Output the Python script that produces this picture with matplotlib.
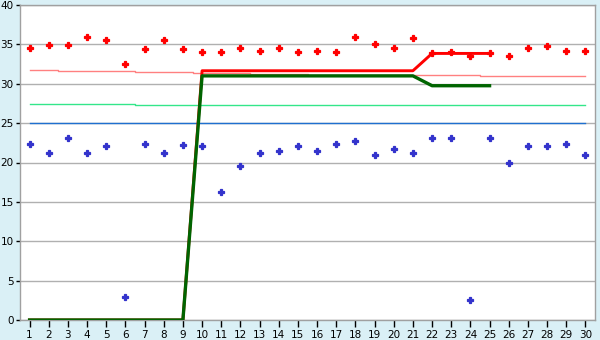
import matplotlib
matplotlib.use("Agg")
import matplotlib.pyplot as plt

days = list(range(1, 31))
red_points = [34.5, 34.9, 34.9, 36.0, 35.5, 32.5, 34.4, 35.6, 34.4, 34.0,
              34.0, 34.5, 34.1, 34.5, 34.0, 34.2, 34.0, 36.0, 35.0, 34.6,
              35.8, 33.9, 34.0, 33.5, 33.9, 33.5, 34.5, 34.75, 34.2, 34.2]
blue_points = [22.3, 21.2, 23.1, 21.2, 22.05, 2.9, 22.4, 21.2, 22.2, 22.05,
               16.2, 19.6, 21.2, 21.4, 22.05, 21.4, 22.4, 22.7, 21.0, 21.7,
               21.2, 23.1, 23.1, 2.5, 23.1, 20.0, 22.05, 22.05, 22.3, 21.0]
pink_line = [31.7, 31.7, 31.58, 31.58, 31.58, 31.58, 31.45, 31.45, 31.45, 31.35,
             31.35, 31.35, 31.2, 31.2, 31.2, 31.07, 31.07, 31.07, 31.07, 31.07,
             31.07, 31.07, 31.07, 31.07, 30.95, 30.95, 30.95, 30.95, 30.95, 30.95]
lightgreen_line = [27.4] * 6 + [27.26] * 24
blue_line = [25.0] * 30
thick_days = list(range(1, 26))
red_thick = [0] * 9 + [31.65] * 12 + [33.85] * 4
green_thick = [0] * 9 + [31.0] * 12 + [29.75] * 4

fig = plt.figure(figsize=(6, 3.4), dpi=100)
fig.patch.set_facecolor("#daf0f6")
ax = fig.add_axes([20/600, 20/340, 575/600, 315/340])
ax.set_facecolor("white")

ax.set_xlim(0.5, 30.5)
ax.set_ylim(0, 40)
ax.set_yticks(range(0, 41, 5))
ax.set_xticks(days)
ax.grid(axis="y", color="#b0b0b0", linewidth=1.0, zorder=0)
ax.set_axisbelow(True)

ax.plot(days, blue_line, color="#1f70d0", linewidth=1.0, zorder=2)
ax.plot(days, lightgreen_line, color="#33e68a", linewidth=1.0, drawstyle="steps-mid", zorder=2)
ax.plot(days, pink_line, color="#ff8080", linewidth=1.0, drawstyle="steps-mid", zorder=2)
ax.plot(thick_days, red_thick, color="#ff0000", linewidth=2.1, zorder=3)
ax.plot(thick_days, green_thick, color="#006400", linewidth=2.4, zorder=4)
ax.plot(days, red_points, linestyle="none", marker="P", markersize=4.6,
        color="#ff0000", markeredgecolor="#ff0000", markeredgewidth=0.9, zorder=5)
ax.plot(days, blue_points, linestyle="none", marker="P", markersize=4.6,
        color="#3333cc", markeredgecolor="#3333cc", markeredgewidth=0.9, zorder=5)

for s in ax.spines.values():
    s.set_color("#a0a0a0")
    s.set_linewidth(1.0)

ax.tick_params(axis="x", direction="out", length=5, width=1, colors="black",
               labelsize=7.5, pad=2)
ax.tick_params(axis="y", direction="out", length=3, width=1, colors="black",
               labelsize=7.5, pad=1.5)

fig.savefig("out.png", dpi=100, facecolor=fig.get_facecolor())
